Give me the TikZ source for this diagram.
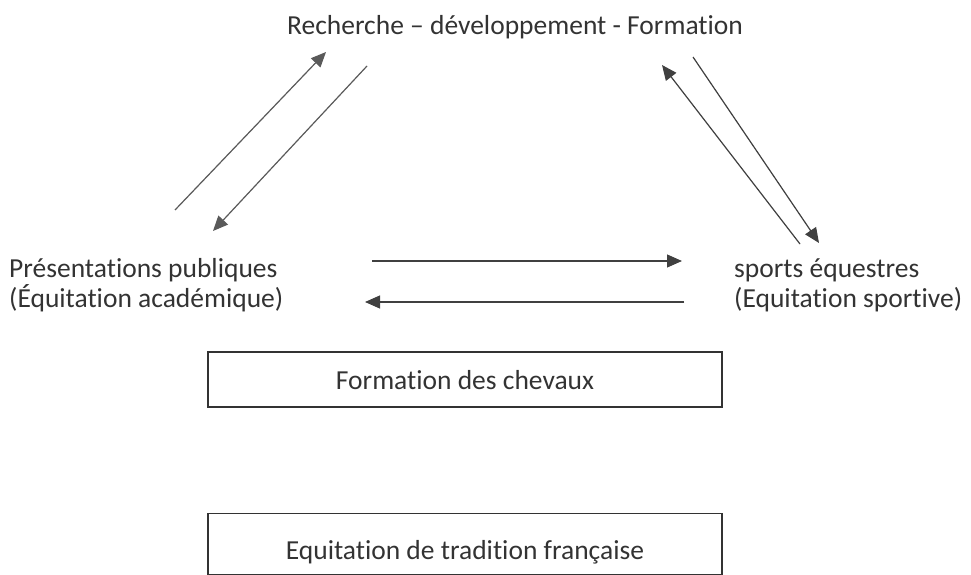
\documentclass[tikz,border=0pt]{standalone}
\usepackage{fontspec}
\setmainfont{Carlito}[Ligatures=NoCommon]
\usetikzlibrary{arrows.meta}
\definecolor{txt}{HTML}{333333}
\definecolor{lnL}{HTML}{5A5A5A}
\definecolor{lnR}{HTML}{404040}
\tikzset{
  lbl/.style={inner sep=0pt, text=txt, font=\fontsize{27.5}{30}\selectfont},
  conn/.style={line width=1.2pt, -{Triangle[length=15pt,width=13pt]}},
  framebox/.style={draw=txt, line width=1.5pt, inner sep=0pt}
}
\begin{document}
\begin{tikzpicture}[x=1pt,y=-1pt]
\useasboundingbox (0,0) rectangle (971,575);
\node[lbl] (top) at (515,27) {Recherche – développement - Formation};
\node[lbl, anchor=west, align=left] (left) at (9,285) {Présentations publiques\\(Équitation académique)};
\node[lbl, anchor=west, align=left] (right) at (734,285) {sports équestres\\(Equitation sportive)};
\node[framebox, minimum width=514pt, minimum height=55pt] (box1) at (465,379.5) {};
\node[lbl] (t1) at (465,380) {Formation des chevaux};
\node[framebox, minimum width=514pt, minimum height=61pt] (box2) at (465,544) {};
\node[lbl] (t2) at (465,552) {Equitation de tradition française};
% connector end points
\coordinate (a1s) at (175,210); \coordinate (a1e) at (326,52);
\coordinate (a2s) at (367,66);  \coordinate (a2e) at (213,231);
\coordinate (a3s) at (800,244); \coordinate (a3e) at (662,65);
\coordinate (a4s) at (693,57);  \coordinate (a4e) at (819,243);
\coordinate (a5s) at (372,261); \coordinate (a5e) at (682,261);
\coordinate (a6s) at (684,302); \coordinate (a6e) at (365,302);
\draw[conn, draw=lnL, fill=lnL] (a1s) -- (a1e);
\draw[conn, draw=lnL, fill=lnL] (a2s) -- (a2e);
\draw[conn, draw=lnR, fill=lnR] (a3s) -- (a3e);
\draw[conn, draw=lnR, fill=lnR] (a4s) -- (a4e);
\draw[conn, draw=lnR, fill=lnR] (a5s) -- (a5e);
\draw[conn, draw=lnR, fill=lnR] (a6s) -- (a6e);
\end{tikzpicture}
\end{document}
